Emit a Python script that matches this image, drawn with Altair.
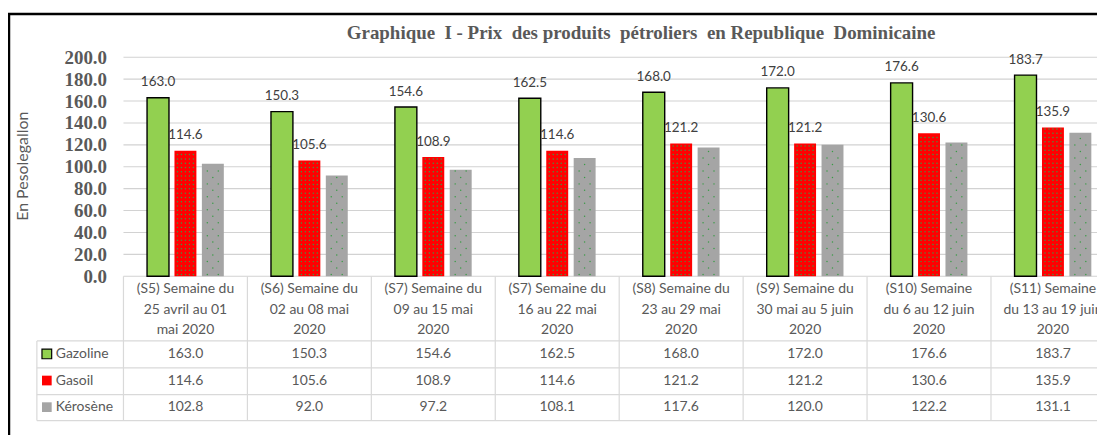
import altair as alt
import numpy as np
import pandas as pd

# ---------------- data ----------------
weeks = [
    "(S5) Semaine du\n25  avril au 01\nmai 2020",
    "(S6) Semaine du\n02 au 08 mai\n2020",
    "(S7) Semaine du\n09 au 15 mai\n2020",
    "(S7) Semaine du\n16 au 22 mai\n2020",
    "(S8) Semaine du\n23 au 29 mai\n2020",
    "(S9) Semaine du\n30 mai au 5 juin\n2020",
    "(S10) Semaine\ndu 6 au 12 juin\n2020",
    "(S11) Semaine\ndu 13 au 19 juin\n2020",
]
series = ["Gazoline", "Gasoil", "Kérosène"]
gazoline = [163.0, 150.3, 154.6, 162.5, 168.0, 172.0, 176.6, 183.7]
gasoil = [114.6, 105.6, 108.9, 114.6, 121.2, 121.2, 130.6, 135.9]
kerosene = [102.8, 92.0, 97.2, 108.1, 117.6, 120.0, 122.2, 131.1]
y_ticks = [0, 20, 40, 60, 80, 100, 120, 140, 160, 180, 200]
title_text = "Graphique\u00a0 I - Prix\u00a0 des produits\u00a0 pétroliers\u00a0 en Republique\u00a0 Dominicaine"
y_title = "En Pesolegallon"

rows = []
for s, vals in zip(series, [gazoline, gasoil, kerosene]):
    for w, v in zip(weeks, vals):
        rows.append({"week": w, "series": s, "value": v, "label": f"{v:.1f}"})
df = pd.DataFrame(rows)

# ---------------- layout / style ----------------
W = 978           # visible plot width (clipped at the right like the reference)
H = 380
FULL_X = 996      # full width of the 8 category columns
BAND = FULL_X / len(weeks)
PLOT_H = 220      # pixel height of the 0..200 value range (22 px per gridline step)
Y0 = 0.5          # half-pixel offset so that 1 px lines are crisp
PX_PER_UNIT = PLOT_H / 200.0
colors = ["#92D050", "#FF0000", "#A5A5A5"]
TXT = "#595959"
GRID = "#D9D9D9"
SANS = "Lato"
SERIF = "Liberation Serif"

x_scale = alt.Scale(domain=weeks, range=[0, FULL_X], paddingInner=0, paddingOuter=0)
xo_scale = alt.Scale(domain=series, paddingInner=0.2, paddingOuter=0.86)
y_scale = alt.Scale(domain=[0, 200], range=[PLOT_H + Y0, Y0], nice=False, zero=True)
c_scale = alt.Scale(domain=series, range=colors)
y_axis = alt.Axis(values=y_ticks, format=".1f", labelFont=SERIF,
                  labelFontSize=19, labelFontWeight="bold", labelColor=TXT,
                  labelPadding=17, ticks=False, domain=False, grid=False, title=None)

X = alt.X("week:N", scale=x_scale, axis=None, sort=weeks)
XO = alt.XOffset("series:N", scale=xo_scale, sort=series)

base = alt.Chart(df)
one = pd.DataFrame({"k": [0]})

# horizontal gridlines at the tick values, drawn through the value scale
grid = alt.Chart(pd.DataFrame({"tick": y_ticks})).mark_rule(
    color="#D2D2D2", strokeWidth=1.1
).encode(
    y=alt.Y("tick:Q", scale=y_scale, axis=y_axis),
    x=alt.value(0), x2=alt.value(W),
)

bars_green = base.transform_filter(alt.datum.series == "Gazoline").mark_bar(
    stroke="#000000", strokeWidth=1.4
).encode(
    x=X, xOffset=XO,
    y=alt.Y("value:Q", scale=y_scale, axis=y_axis),
    color=alt.Color("series:N", scale=c_scale, legend=None),
)
bars_other = base.transform_filter(alt.datum.series != "Gazoline").mark_bar().encode(
    x=X, xOffset=XO,
    y=alt.Y("value:Q", scale=y_scale, axis=y_axis),
    color=alt.Color("series:N", scale=c_scale, legend=None),
)

value_labels = base.transform_filter(alt.datum.series != "Kérosène").mark_text(
    font=SANS, fontSize=13.5, color="#404040", baseline="alphabetic", dy=-11.5
).encode(x=X, xOffset=XO, y=alt.Y("value:Q", scale=y_scale, axis=y_axis), text="label:N")

# dotted texture of the Gasoil and Kérosène bars (derived from the values)
bar_center = {"Gasoil": BAND / 2, "Kérosène": BAND / 2 + 27.5}
dot_rows = []
for s, vals, step, patA, patB in [
    ("Gasoil", gasoil, 4.3, [-8, -4, 0, 4, 8], [-8, -4, 0, 4, 8]),
    ("Kérosène", kerosene, 6.5, [-5.5, 5.5], [0]),
]:
    ustep = step / PX_PER_UNIT
    for w, v in zip(weeks, vals):
        k = 0
        yv = 1.8 / PX_PER_UNIT
        while yv < v - 1.0 / PX_PER_UNIT:
            for dx in (patA if k % 2 == 0 else patB):
                dot_rows.append({"week": w, "dv": yv, "px": bar_center[s] + dx})
            yv += ustep
            k += 1
dots_df = pd.DataFrame(dot_rows)
dots = alt.Chart(dots_df).mark_circle(size=2.2, color="#3A9B46", opacity=1).encode(
    x=alt.X("week:N", scale=x_scale, axis=None, sort=weeks, bandPosition=0),
    xOffset=alt.XOffset("px:Q", scale=None),
    y=alt.Y("dv:Q", scale=y_scale, axis=y_axis),
)

bars_layer = alt.layer(grid, bars_green, bars_other, value_labels)
plot_layer = alt.layer(bars_layer, dots).resolve_scale(xOffset="independent")

# ---------------- data table under the plot ----------------
row_scale = alt.Scale(type="point", domain=series, range=[298.5, 352], padding=0)
YR = alt.Y("series:N", scale=row_scale, axis=None, sort=series)

wk_df = pd.DataFrame({"week": weeks})
cat_labels = alt.Chart(wk_df).mark_text(
    font=SANS, fontSize=14, color=TXT, lineBreak="\n", lineHeight=21, baseline="middle"
).encode(x=X, y=alt.value(233), text="week:N")

col_lines = alt.Chart(wk_df).mark_rule(color=GRID, strokeWidth=1.2).encode(
    x=alt.X("week:N", scale=x_scale, axis=None, sort=weeks, bandPosition=0),
    y=alt.value(PLOT_H + Y0), y2=alt.value(365.5),
)

left_line = alt.Chart(one).mark_rule(color=GRID, strokeWidth=1.2).encode(
    x=alt.value(-87), y=alt.value(285.5), y2=alt.value(365.5))
h_lines = [
    alt.Chart(one).mark_rule(color=GRID, strokeWidth=1.2).encode(
        x=alt.value(-87), x2=alt.value(W), y=alt.value(yy))
    for yy in (285.5, 312.5, 339.5, 365.5)
]

cells = base.mark_text(font=SANS, fontSize=14, color=TXT, baseline="middle").encode(
    x=X, y=YR, text="label:N")

ser_df = pd.DataFrame({"series": series})
keys = alt.Chart(ser_df).mark_square(size=95, opacity=1).encode(
    x=alt.value(-77), y=YR,
    color=alt.Color("series:N", scale=c_scale, legend=None),
    stroke=alt.condition(alt.datum.series == "Gazoline", alt.value("#000000"), alt.value(None)),
    strokeWidth=alt.value(1.2),
)
key_labels = alt.Chart(ser_df).mark_text(
    font=SANS, fontSize=14, color=TXT, align="left", baseline="middle"
).encode(x=alt.value(-68), y=YR, text="series:N")

table_layer = alt.layer(col_lines, left_line, *h_lines, cells, keys, key_labels, cat_labels)

# ---------------- frame, title, axis title ----------------
frame_top = alt.Chart(one).mark_rule(color="#000000", strokeWidth=2.5).encode(
    x=alt.value(-116), x2=alt.value(W), y=alt.value(-43))
frame_left = alt.Chart(one).mark_rule(color="#000000", strokeWidth=2.5).encode(
    x=alt.value(-115), y=alt.value(-44), y2=alt.value(H))
title = alt.Chart(pd.DataFrame({"t": [title_text]})).mark_text(
    font=SERIF, fontSize=19, fontWeight="bold", color=TXT, align="center", baseline="alphabetic"
).encode(x=alt.value(520), y=alt.value(-18), text="t:N")
ytitle = alt.Chart(pd.DataFrame({"t": [y_title]})).mark_text(
    font=SANS, fontSize=16, color=TXT, angle=270, align="center", baseline="middle"
).encode(x=alt.value(-101), y=alt.value(110), text="t:N")

chart = alt.layer(
    plot_layer, table_layer, frame_top, frame_left, title, ytitle
).resolve_scale(y="independent").properties(
    width=W, height=H, background="white",
    autosize=alt.AutoSizeParams(type="none"),
    padding={"left": 116, "top": 48, "right": 0, "bottom": 0},
).configure_view(stroke=None)

chart.save("out.html", embed_options={"renderer": "svg", "actions": False})
